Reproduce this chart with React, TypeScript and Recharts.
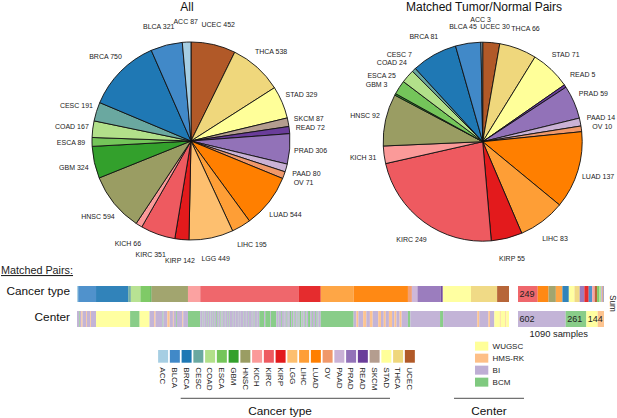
import { Bar, BarChart, Cell, LabelList, Pie, PieChart, XAxis, YAxis } from "recharts";

const cancerTypes = [
  "ACC", "BLCA", "BRCA", "CESC", "COAD", "ESCA", "GBM", "HNSC", "KICH", "KIRC", "KIRP",
  "LGG", "LIHC", "LUAD", "OV", "PAAD", "PRAD", "READ", "SKCM", "STAD", "THCA", "UCEC",
];
const allCounts = [87, 321, 750, 191, 167, 89, 324, 594, 66, 351, 142, 449, 195, 544, 71, 80, 306, 72, 87, 329, 538, 452];
const pairedCounts = [3, 45, 81, 7, 24, 25, 3, 92, 31, 249, 55, 0, 83, 137, 10, 14, 59, 5, 0, 71, 66, 30];

const typeColors = [
  "#a6cee3", "#4189c8", "#1f78b4", "#6aa8a0", "#b2e08a", "#74c55a", "#33a02c", "#9a9d63", "#fb9a99", "#ee5a60", "#e31a1c",
  "#fdbf6f", "#fe9e36", "#ff7f00", "#f0986a", "#cab2d6", "#9272b8", "#6a3d9a", "#b49d8f", "#ffff99", "#efd77c", "#b15928",
];

const centers = ["WUGSC", "HMS-RK", "BI", "BCM"];
const centerColors: Record<string, string> = {
  WUGSC: "#ffff99",
  "HMS-RK": "#fdbf87",
  BI: "#beaed4",
  BCM: "#7fc97f",
};
const centerTotals: [string, number][] = [["BI", 602], ["BCM", 261], ["WUGSC", 144], ["HMS-RK", 83]];

// center of each matched pair, left to right, as runs of samples
const centerRuns: [string, number][] = [
  ["BI", 5], ["BCM", 2], ["BI", 4], ["HMS-RK", 3], ["BI", 9], ["HMS-RK", 2], ["BI", 8], ["HMS-RK", 2], ["BI", 13],
  ["WUGSC", 86], ["BCM", 24], ["WUGSC", 25],
  ["BI", 12], ["HMS-RK", 3], ["BI", 18], ["BCM", 2], ["BI", 10], ["HMS-RK", 6], ["BI", 8], ["HMS-RK", 2], ["BI", 6], ["BCM", 2], ["BI", 14], ["HMS-RK", 2], ["BI", 12],
  ["BCM", 31],
  ["BI", 5], ["BCM", 1], ["BI", 3], ["BCM", 1], ["BI", 6], ["BCM", 1], ["BI", 4], ["BCM", 1], ["BI", 3], ["BCM", 1], ["BI", 5], ["BCM", 1], ["BI", 4], ["BCM", 1],
  ["BI", 3], ["BCM", 2], ["BI", 4], ["BCM", 1], ["BI", 4], ["BCM", 2], ["BI", 3], ["BCM", 1], ["BI", 5], ["BCM", 1],
  ["BI", 6], ["BCM", 1], ["BI", 4], ["BCM", 1], ["BI", 7], ["BCM", 1], ["BI", 5], ["BCM", 1], ["BI", 6], ["BCM", 1], ["BI", 4], ["BCM", 1],
  ["BI", 8], ["BCM", 1], ["BI", 5], ["BCM", 1], ["BI", 6], ["BCM", 1], ["BI", 7], ["BCM", 1], ["BI", 4], ["BCM", 2], ["BI", 6], ["BCM", 1], ["BI", 5],
  ["BCM", 12], ["BI", 3], ["BCM", 12], ["BI", 2], ["BCM", 14],
  ["BI", 5], ["BCM", 1], ["BI", 6], ["BCM", 2], ["BI", 5], ["BCM", 1], ["BI", 4], ["BCM", 2], ["BI", 3], ["BCM", 1],
  ["BI", 4], ["BCM", 3], ["BI", 3], ["BCM", 3], ["BI", 5], ["BCM", 2], ["BI", 4], ["BCM", 2],
  ["BI", 3], ["BCM", 4], ["BI", 3], ["BCM", 2], ["BI", 5], ["BCM", 3], ["BI", 4],
  ["BCM", 6], ["BI", 4], ["BCM", 2], ["BI", 6], ["BCM", 2], ["BI", 4], ["BCM", 2], ["BI", 6],
  ["BCM", 83],
  ["BI", 7], ["HMS-RK", 5], ["BI", 12], ["HMS-RK", 8], ["BI", 9], ["HMS-RK", 7], ["BI", 14], ["HMS-RK", 7], ["BI", 7], ["HMS-RK", 5], ["BI", 8], ["HMS-RK", 8], ["BI", 6], ["HMS-RK", 5], ["BI", 8], ["HMS-RK", 5], ["BI", 16],
  ["BCM", 6], ["BI", 75], ["BCM", 8],
  ["BI", 86], ["HMS-RK", 5], ["BI", 23], ["HMS-RK", 4], ["BI", 11],
  ["WUGSC", 14], ["HMS-RK", 2], ["WUGSC", 12], ["HMS-RK", 2], ["WUGSC", 7],
];

const labelNudges: Record<string, [number, number]> = {
  "BLCA 321": [-2.5, 2],
  "ACC 3": [-1, -2],
  "BLCA 45": [-2, 4],
  "UCEC 30": [2, 5],
};

type Segment = { key: string; value: number; color: string; text?: string };

const font = '"Liberation Sans", Arial, sans-serif';
const RADIAN = Math.PI / 180;

function pieRows(counts: number[]) {
  // clockwise from the top: UCEC first, ACC last
  return cancerTypes
    .map((name, i) => ({ name, value: counts[i], fill: typeColors[i] }))
    .filter((row) => row.value > 0)
    .reverse();
}

function renderPieLabel(props: any) {
  const { cx, cy, midAngle, outerRadius, name, value } = props;
  const radius = outerRadius * 1.212;
  const text = `${name} ${value}`;
  const nudge = labelNudges[text] ?? [0, 0];
  return (
    <text
      x={cx + radius * Math.cos(-midAngle * RADIAN) + nudge[0]}
      y={cy + radius * Math.sin(-midAngle * RADIAN) + nudge[1]}
      textAnchor="middle"
      dominantBaseline="central"
      fontSize={7}
      fill="#222"
    >
      {text}
    </text>
  );
}

function renderTypeTick(props: any) {
  const { x, y, payload } = props;
  return (
    <text x={x} y={y} transform={`rotate(90 ${x} ${y})`} dominantBaseline="central" fontSize={8} fill="#222">
      {payload.value}
    </text>
  );
}

function Strip({ segments, left, top, width, total }: { segments: Segment[]; left: number; top: number; width: number; total: number }) {
  const row: Record<string, number | string> = { row: "all" };
  segments.forEach((s) => {
    row[s.key] = s.value;
  });
  return (
    <div style={{ position: "absolute", left, top }}>
      <BarChart
        width={width}
        height={16}
        layout="vertical"
        data={[row]}
        barCategoryGap={0}
        margin={{ top: 0, right: 0, bottom: 0, left: 0 }}
      >
        <XAxis type="number" domain={[0, total]} hide />
        <YAxis type="category" dataKey="row" hide />
        {segments.map((s) => (
          <Bar key={s.key} dataKey={s.key} stackId="a" fill={s.color} fillOpacity={0.92} isAnimationActive={false}>
            {s.text ? (
              <LabelList position="insideLeft" offset={1.5} fontSize={9} fill="#222" formatter={() => s.text} />
            ) : null}
          </Bar>
        ))}
      </BarChart>
    </div>
  );
}

export default function App() {
  const total = pairedCounts.reduce((a, b) => a + b, 0);

  const typeSegments: Segment[] = cancerTypes
    .map((name, i) => ({ key: name, value: pairedCounts[i], color: typeColors[i] }))
    .filter((s) => s.value > 0);
  const centerSegments: Segment[] = centerRuns.map(([name, n], i) => ({
    key: `run${i}`,
    value: n,
    color: centerColors[name],
  }));
  const typeSumSegments: Segment[] = [...typeSegments]
    .sort((a, b) => b.value - a.value)
    .map((s, i) => (i === 0 ? { ...s, text: String(s.value) } : s));
  const centerSumSegments: Segment[] = centerTotals.map(([name, n]) => ({
    key: name,
    value: n,
    color: centerColors[name],
    text: name === "HMS-RK" ? undefined : String(n),
  }));

  const swatches = cancerTypes.map((name) => ({ name, value: 1 }));
  const centerSwatches = centers.map((name) => ({ name, value: 1 }));

  return (
    <div style={{ position: "absolute", left: 0, top: 0, width: 617, height: 418, background: "#fff", fontFamily: font, overflow: "hidden" }}>
      <div style={{ position: "absolute", left: 0, top: 0 }}>
        <PieChart width={617} height={270} margin={{ top: 0, right: 0, bottom: 0, left: 0 }}>
          <Pie
            data={pieRows(allCounts)}
            dataKey="value"
            nameKey="name"
            cx={191}
            cy={141}
            outerRadius={99}
            startAngle={90}
            endAngle={-270}
            stroke="#111"
            strokeWidth={0.9}
            label={renderPieLabel}
            labelLine={false}
            isAnimationActive={false}
          />
          <Pie
            data={pieRows(pairedCounts)}
            dataKey="value"
            nameKey="name"
            cx={482.7}
            cy={141.7}
            outerRadius={99.5}
            startAngle={90}
            endAngle={-270}
            stroke="#111"
            strokeWidth={0.9}
            label={renderPieLabel}
            labelLine={false}
            isAnimationActive={false}
          />
        </PieChart>
      </div>

      <Strip segments={typeSegments} left={77} top={286} width={432} total={total} />
      <Strip segments={centerSegments} left={77} top={311} width={432} total={total} />
      <Strip segments={typeSumSegments} left={517.7} top={286} width={86.3} total={total} />
      <Strip segments={centerSumSegments} left={517.7} top={311} width={86.3} total={total} />

      <div style={{ position: "absolute", left: 157.1, top: 350 }}>
        <BarChart width={258.5} height={45} data={swatches} barCategoryGap={1.1} margin={{ top: 0, right: 0, bottom: 0, left: 0 }}>
          <XAxis
            dataKey="name"
            interval={0}
            height={32.3}
            axisLine={false}
            tickLine={false}
            tickSize={4.6}
            tickMargin={0}
            tick={renderTypeTick}
          />
          <YAxis domain={[0, 1]} hide />
          <Bar dataKey="value" isAnimationActive={false}>
            {swatches.map((s, i) => (
              <Cell key={s.name} fill={typeColors[i]} />
            ))}
          </Bar>
        </BarChart>
      </div>

      <div style={{ position: "absolute", left: 474.7, top: 340 }}>
        <BarChart
          width={63.3}
          height={48}
          layout="vertical"
          data={centerSwatches}
          barCategoryGap={1.65}
          margin={{ top: 0, right: 0, bottom: 0, left: 0 }}
        >
          <XAxis type="number" domain={[0, 1]} hide />
          <YAxis
            type="category"
            dataKey="name"
            orientation="right"
            width={50}
            interval={0}
            axisLine={false}
            tickLine={false}
            tickSize={0}
            tickMargin={4.3}
            tick={{ fontSize: 8, fill: "#222" }}
          />
          <Bar dataKey="value" isAnimationActive={false}>
            {centerSwatches.map((s) => (
              <Cell key={s.name} fill={centerColors[s.name]} />
            ))}
          </Bar>
        </BarChart>
      </div>

      <svg width={617} height={418} style={{ position: "absolute", left: 0, top: 0, pointerEvents: "none" }}>
        <text x={187} y={11} textAnchor="middle" fontSize={12} fill="#111">All</text>
        <text x={484} y={11} textAnchor="middle" fontSize={12} fill="#111">Matched Tumor/Normal Pairs</text>
        <text x={1} y={274} fontSize={10.8} fill="#222" textDecoration="underline">Matched Pairs:</text>
        <text x={70} y={295} textAnchor="end" fontSize={11.8} fill="#111">Cancer type</text>
        <text x={70} y={321} textAnchor="end" fontSize={11.8} fill="#111">Center</text>
        <text x={558.7} y={337} textAnchor="middle" fontSize={9.4} fill="#222">1090 samples</text>
        <text x={610} y={303.5} textAnchor="middle" fontSize={8.2} fill="#222" transform="rotate(90 610 303.5)">Sum</text>
        <line x1={180.7} x2={390} y1={398.3} y2={398.3} stroke="#222" strokeWidth={0.8} />
        <line x1={454} x2={524} y1={398.3} y2={398.3} stroke="#222" strokeWidth={0.8} />
        <text x={280} y={415} textAnchor="middle" fontSize={11.8} fill="#111">Cancer type</text>
        <text x={489} y={415} textAnchor="middle" fontSize={11.8} fill="#111">Center</text>
      </svg>
    </div>
  );
}
